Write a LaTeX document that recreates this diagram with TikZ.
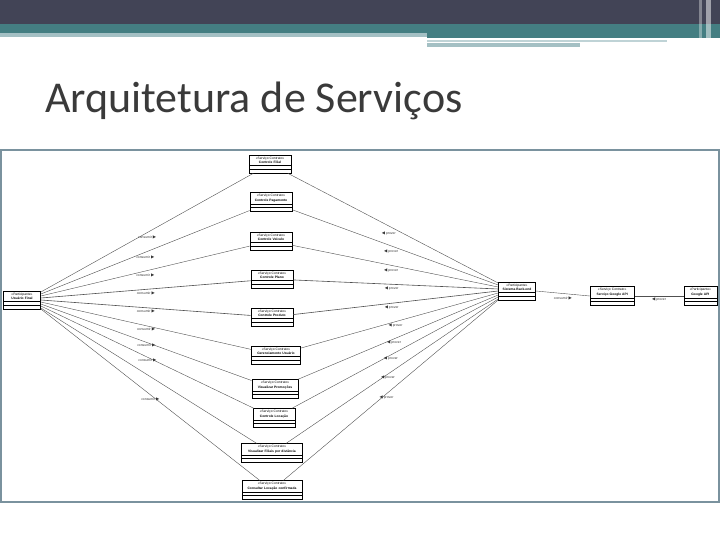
\documentclass[tikz,border=0pt]{standalone}
\usepackage{fontspec}
\setmainfont{Liberation Sans}
\newfontfamily\titlefont{Carlito}
\newfontfamily\symfont{DejaVu Sans}
\usetikzlibrary{positioning,shapes.multipart}
\definecolor{slatebar}{RGB}{66,68,86}
\definecolor{tealbar}{RGB}{68,126,130}
\definecolor{paleteal}{RGB}{164,192,196}
\definecolor{framegray}{RGB}{122,146,158}
\definecolor{titlegray}{RGB}{58,58,58}
\definecolor{wiregray}{RGB}{80,80,80}
\tikzset{
  svc/.style  ={rectangle split, rectangle split parts=3, draw=black, line width=0.7pt,
                fill=white, text width=40pt, align=center, inner xsep=1pt, inner ysep=1.5pt,
                rectangle split empty part height=1.5pt, font=\fontsize{3.3}{4.4}\selectfont},
  wire/.style ={draw=wiregray, line width=0.4pt},
  lbl/.style  ={font=\fontsize{3.4}{4}\selectfont, inner sep=1pt, text=black!80}
}
\newcommand{\rarr}{{\symfont\fontsize{4.2}{4}\selectfont ▶}}
\newcommand{\larr}{{\symfont\fontsize{4.2}{4}\selectfont ◀}}

\begin{document}
\begin{tikzpicture}[x=1pt, y=-1pt]
\useasboundingbox (0,0) rectangle (720,540);
% ---- slide header ----
\fill[slatebar] (0,0) rectangle (720,24);
\fill[tealbar] (0,24) rectangle (720,33);
\fill[paleteal] (0,33) rectangle (427,37);
\fill[tealbar] (427,33) rectangle (720,38);
\fill[paleteal!70] (427,40) rectangle (667,42);
\fill[paleteal] (427,43) rectangle (580,47);
\fill[white, opacity=0.35] (699,0) rectangle (702,40);
\fill[white, opacity=0.5] (706,0) rectangle (711,46);
\node[anchor=base west, inner sep=0, text=titlegray,
      font=\titlefont\fontsize{44}{46}\selectfont] (title) at (45,113) {Arquitetura de Serviços};
\draw[framegray, line width=1.2pt] (1,150) rectangle (719,502);

% ---- service column ----
\node[svc] (filial) at (270,164) {«Serviço Contrato»\\\textbf{Controle Filial}\nodepart{second}\nodepart{third}};
\node[svc] (pagto) at (271,202) {«Serviço Contrato»\\\textbf{Controle Pagamento}\nodepart{second}\nodepart{third}};
\node[svc] (veiculo) at (271,241) {«Serviço Contrato»\\\textbf{Controle Veículo}\nodepart{second}\nodepart{third}};
\node[svc] (plano) at (272,279) {«Serviço Contrato»\\\textbf{Controle Plano}\nodepart{second}\nodepart{third}};
\node[svc] (produto) at (272,317) {«Serviço Contrato»\\\textbf{Controle Produto}\nodepart{second}\nodepart{third}};
\node[svc, text width=47pt] (gerusr) at (276,355) {«Serviço Contrato»\\\textbf{Gerenciamento Usuário}\nodepart{second}\nodepart{third}};
\node[svc, text width=44pt] (promo) at (275,389) {«Serviço Contrato»\\\textbf{Visualizar Promoções}\nodepart{second}\nodepart{third}};
\node[svc] (locacao) at (274,418) {«Serviço Contrato»\\\textbf{Controle Locação}\nodepart{second}\nodepart{third}};
\node[svc, text width=59pt] (vfiliais) at (272,453) {«Serviço Contrato»\\\textbf{Visualizar Filiais por distância}\nodepart{second}\nodepart{third}};
\node[svc, text width=58pt] (confirm) at (272,490) {«Serviço Contrato»\\\textbf{Consultar Locação confirmada}\nodepart{second}\nodepart{third}};

% ---- participants ----
\node[svc, text width=35pt] (usuario) at (22,300) {«Participante»\\\textbf{Usuário Final}\nodepart{second}\nodepart{third}};
\node[svc, text width=35pt] (backend) at (517,291) {«Participante»\\\textbf{Sistema Back-end}\nodepart{second}\nodepart{third}};
\node[svc, text width=42pt, right=54pt of backend, yshift=-5pt] (gservice) {«Serviço Contrato»\\\textbf{Serviço Google API}\nodepart{second}\nodepart{third}};
\node[svc, text width=31pt, right=49pt of gservice] (gapi) {«Participante»\\\textbf{Google API}\nodepart{second}\nodepart{third}};

% ---- consumer side ----
\draw[wire] ([yshift=8pt]usuario.east) -- (filial) node[lbl, pos=0.5, below=2pt] {consumir \rarr};
\draw[wire] ([yshift=6pt]usuario.east) -- (pagto) node[lbl, pos=0.5, below=2pt] {consumir \rarr};
\draw[wire] ([yshift=4pt]usuario.east) -- (veiculo) node[lbl, pos=0.5, below=2pt] {consumir \rarr};
\draw[wire, line width=0.6pt] ([yshift=2pt]usuario.east) -- (plano) node[lbl, pos=0.5, below=1pt] {consumir \rarr};
\draw[wire, line width=0.6pt] (usuario.east) -- (produto) node[lbl, pos=0.5, below=1pt] {consumir \rarr};
\draw[wire] ([yshift=-2pt]usuario.east) -- (gerusr) node[lbl, pos=0.5, below=1pt] {consumir \rarr};
\draw[wire] ([yshift=-4pt]usuario.east) -- (promo) node[lbl, pos=0.5, below=0pt] {consumir \rarr};
\draw[wire] ([yshift=-6pt]usuario.east) -- (locacao) node[lbl, pos=0.5, below=0pt] {consumir \rarr};
\draw[wire] ([yshift=-8pt]usuario.east) -- (vfiliais);
\draw[wire] ([yshift=-9pt]usuario.east) -- (confirm) node[lbl, pos=0.5, below=2pt] {consumir \rarr};

% ---- provider side ----
\draw[wire] (filial) -- ([yshift=8pt]backend.west) node[lbl, pos=0.48, below=5pt] {\larr\ prover};
\draw[wire] (pagto) -- ([yshift=6pt]backend.west) node[lbl, pos=0.48, below=3pt] {\larr\ prover};
\draw[wire] (veiculo) -- ([yshift=4pt]backend.west) node[lbl, pos=0.48, below=2pt] {\larr\ prover};
\draw[wire, line width=0.6pt] (plano) -- ([yshift=2pt]backend.west) node[lbl, pos=0.48, below=1pt] {\larr\ prover};
\draw[wire, line width=0.6pt] (produto) -- (backend.west) node[lbl, pos=0.48, below=1pt] {\larr\ prover};
\draw[wire] (gerusr) -- ([yshift=-2pt]backend.west) node[lbl, pos=0.48, below=1pt] {\larr\ prover};
\draw[wire] (promo) -- ([yshift=-4pt]backend.west) node[lbl, pos=0.48, below=1pt] {\larr\ prover};
\draw[wire] (locacao) -- ([yshift=-6pt]backend.west) node[lbl, pos=0.48, below=1pt] {\larr\ prover};
\draw[wire] (vfiliais) -- ([yshift=-8pt]backend.west) node[lbl, pos=0.48, below=1pt] {\larr\ prover};
\draw[wire] (confirm) -- ([yshift=-9pt]backend.west) node[lbl, pos=0.48, below=1pt] {\larr\ prover};

% ---- google chain ----
\draw[wire] (backend.east) -- (gservice.west) node[lbl, pos=0.5, below=2pt] {consumir \rarr};
\draw[wire] (gservice.east) -- (gapi.west) node[lbl, pos=0.5, below=1pt] {\larr\ prover};
\end{tikzpicture}
\end{document}
